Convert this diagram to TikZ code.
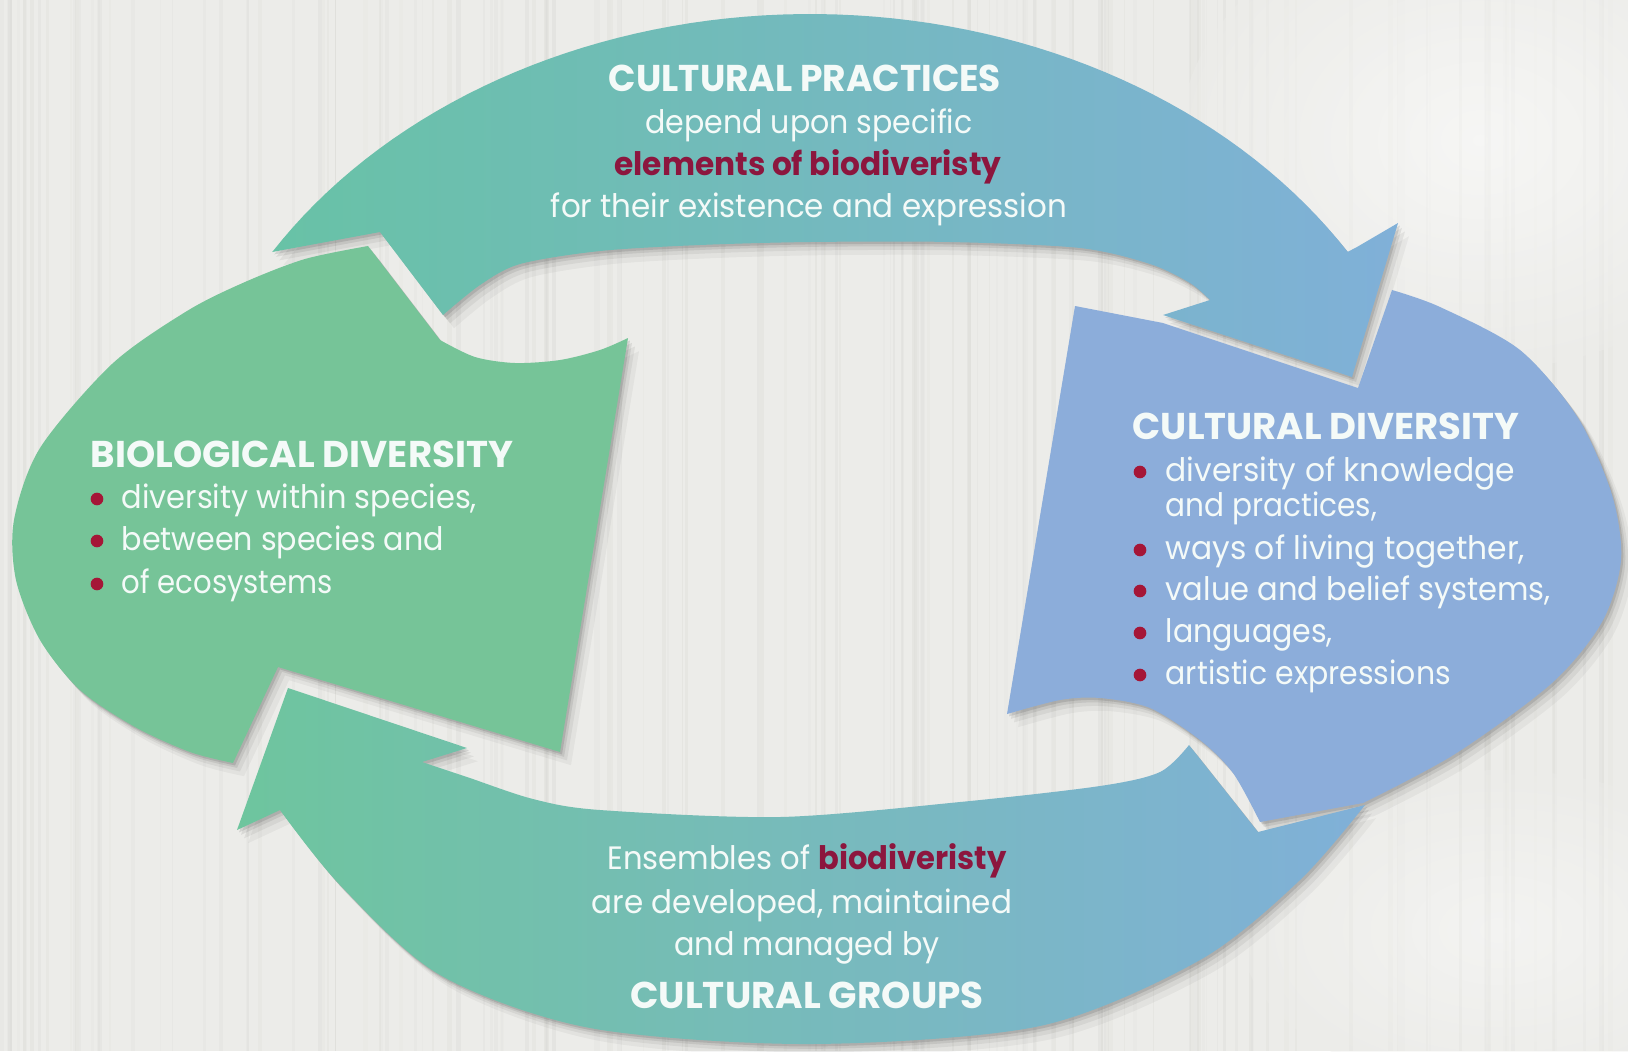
\documentclass[tikz,border=0pt]{standalone}
\usepackage{fontspec}
\setmainfont{Poppins}
\usepackage{graphicx}
\definecolor{bg}{RGB}{236,236,233}
\definecolor{grain}{RGB}{205,205,200}
\definecolor{greenS}{RGB}{118,196,152}
\definecolor{topL}{RGB}{104,194,166}
\definecolor{topR}{RGB}{128,176,216}
\definecolor{botL}{RGB}{110,197,158}
\definecolor{botR}{RGB}{128,176,216}
\definecolor{blueS}{RGB}{140,173,218}
\definecolor{crim}{RGB}{140,22,62}
\definecolor{dotc}{RGB}{165,22,55}
\definecolor{txtc}{RGB}{244,250,248}
\newlength\fitlen
\newcommand\fitw[2]{\settowidth\fitlen{#2}\pgfmathsetmacro\fitratio{#1*0.284528/\fitlen}\scalebox{\fitratio}[1]{#2}}
\tikzset{
  tx/.style={text=txtc, inner sep=0pt, font=\fontsize{9.2}{11}\selectfont},
  hd/.style={text=txtc, inner sep=0pt, font=\fontsize{10.6}{12}\selectfont\bfseries},
  bdot/.style={circle, fill=dotc, inner sep=0pt, minimum size=3.6pt},
}
\def\topband{(272,252) -- (380,232) -- (443,315)
  -- plot[smooth] coordinates {(443,315) (480,285) (520,264) (600,251) (700,245) (810,242) (950,242) (1080,248) (1150,264) (1190,283) (1210,300)}
  -- (1163,315) -- (1352,377) -- (1398,223) -- (1357,247)
  -- plot[domain=32:148, samples=70] ({810+634*cos(\x)},{520-506*sin(\x)}) -- cycle}
\def\greenshape{(368,246) -- (440,340)
  -- plot[smooth] coordinates {(440,340) (475,357) (515,363) (560,360) (600,350) (628,338)}
  -- (560,752) -- (278,667) -- (233,763)
  -- plot[smooth] coordinates {(233,763) (190,752) (135,727) (80,690) (40,640) (16,580) (14,520) (40,448) (112,364) (187,311) (245,282) (305,259) (368,246)} -- cycle}
\def\blueshape{(1075,306) -- (1163,323) -- (1358,388) -- (1392,290)
  -- plot[smooth] coordinates {(1392,290) (1440,307) (1520,350) (1578,418) (1612,495) (1621,560) (1602,622) (1552,683) (1455,754) (1363,803)}
  -- (1260,822)
  -- plot[smooth] coordinates {(1260,822) (1233,773) (1200,740) (1150,708) (1100,698) (1060,700) (1007,714)} -- cycle}
\def\botband{(1365,805) -- (1258,832) -- (1189,745)
  -- plot[smooth] coordinates {(1189,745) (1160,772) (1100,786) (960,802) (780,817) (600,810) (533,799) (467,777) (422,762)}
  -- (467,748) -- (288,688) -- (237,830) -- (280,810)
  -- plot[smooth] coordinates {(280,810) (340,885) (440,975) (590,1028) (810,1044) (1040,1026) (1200,960) (1300,880) (1365,805)} -- cycle}
\begin{document}
\begin{tikzpicture}[x=0.01cm,y=-0.01cm]
\useasboundingbox (0,0) rectangle (1628,1051);
\fill[bg] (0,0) rectangle (1628,1051);
\pgfmathsetseed{11}
\foreach \i in {1,...,150}{
  \pgfmathsetmacro\xx{rnd*1628}
  \pgfmathsetmacro\ww{0.3+rnd*1.2}
  \pgfmathsetmacro\op{0.06+rnd*0.16}
  \draw[grain, line width=\ww pt, opacity=\op] (\xx,0) -- (\xx,1051);
}
\shade[inner color=white, outer color=bg, opacity=0.55] (1480,140) ellipse (300 and 230);
\shade[inner color=white, outer color=bg, opacity=0.4] (1500,930) ellipse (260 and 160);
% shadows
\foreach \s/\o in {2/0.10, 4/0.08, 7/0.06, 11/0.04}{
  \fill[black, opacity=\o, shift={(\s,1.2*\s)}] \topband;
  \fill[black, opacity=\o, shift={(\s,1.2*\s)}] \greenshape;
  \fill[black, opacity=\o, shift={(\s,1.2*\s)}] \blueshape;
  \fill[black, opacity=\o, shift={(\s,1.2*\s)}] \botband;
}
% shapes
\fill[greenS] \greenshape;
\fill[blueS] \blueshape;
\shade[left color=topL, right color=topR] \topband;
\shade[left color=botL, right color=botR] \botband;
% top text
\node[hd, anchor=base] (cp) at (805,91) {\fitw{392}{CULTURAL PRACTICES}};
\node[tx, anchor=base] (dep) at (809,133) {\fitw{327}{depend upon specific}};
\node[tx, anchor=base] (elem) at (808,175) {\fitw{387}{\textcolor{crim}{\bfseries elements of biodiveristy}}};
\node[tx, anchor=base] (forth) at (809,217) {\fitw{516}{for their existence and expression}};
% left text
\node[hd, anchor=base west] (bio) at (90,467) {\fitw{422}{BIOLOGICAL DIVERSITY}};
\node[tx, anchor=base west] (bl1) at (121,508) {\fitw{355}{diversity within species,}};
\node[tx, anchor=base west] (bl2) at (121,550) {\fitw{322}{between species and}};
\node[tx, anchor=base west] (bl3) at (121,593) {\fitw{211}{of ecosystems}};
\node[bdot] (bd1) at (97,499) {};
\node[bdot] (bd2) at (97,541) {};
\node[bdot] (bd3) at (97,584) {};
% right text
\node[hd, anchor=base west] (cd) at (1132,439) {\fitw{386}{CULTURAL DIVERSITY}};
\node[tx, anchor=base west] (cl1) at (1165,481) {\fitw{349}{diversity of knowledge}};
\node[tx, anchor=base west] (cl2) at (1165,516) {\fitw{211}{and practices,}};
\node[tx, anchor=base west] (cl3) at (1165,559) {\fitw{359}{ways of living together,}};
\node[tx, anchor=base west] (cl4) at (1165,600) {\fitw{385}{value and belief systems,}};
\node[tx, anchor=base west] (cl5) at (1165,642) {\fitw{167}{languages,}};
\node[tx, anchor=base west] (cl6) at (1165,684) {\fitw{285}{artistic expressions}};
\node[bdot] (cd1) at (1140,472) {};
\node[bdot] (cd3) at (1140,550) {};
\node[bdot] (cd4) at (1140,591) {};
\node[bdot] (cd5) at (1140,633) {};
\node[bdot] (cd6) at (1140,675) {};
% bottom text
\node[tx, anchor=base] (ens) at (807,869) {\fitw{399}{Ensembles of \textcolor{crim}{\bfseries biodiveristy}}};
\node[tx, anchor=base] (dev) at (802,913) {\fitw{420}{are developed, maintained}};
\node[tx, anchor=base] (man) at (807,955) {\fitw{265}{and managed by}};
\node[hd, anchor=base] (cg) at (807,1008) {\fitw{353}{CULTURAL GROUPS}};
\end{tikzpicture}
\end{document}
